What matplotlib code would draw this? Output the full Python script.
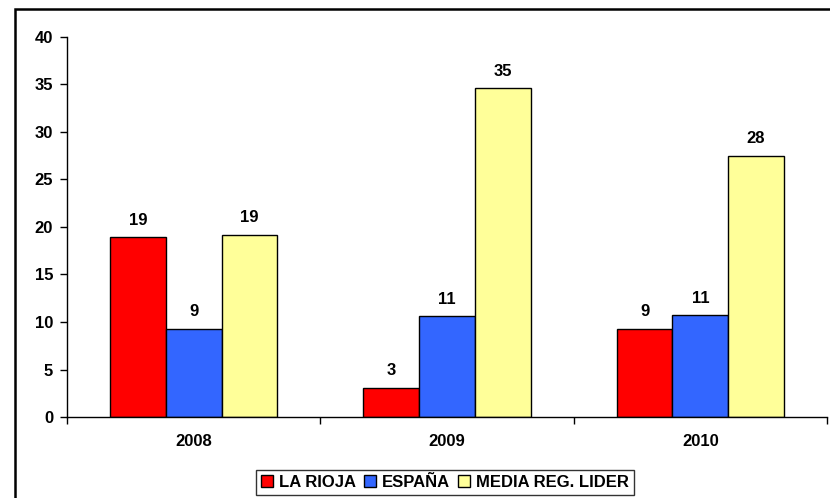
import numpy as np
import matplotlib.pyplot as plt
from matplotlib.patches import Rectangle

years = ["2008", "2009", "2010"]
series = ["LA RIOJA", "ESPAÑA", "MEDIA REG. LIDER"]
la_rioja = [18.9, 3.1, 9.3]
espana = [9.3, 10.6, 10.7]
media_lider = [19.2, 34.6, 27.5]
colores = ["#FF0000", "#3366FF", "#FFFF99"]

plt.rcParams["font.family"] = ["Liberation Sans", "DejaVu Sans"]
plt.rcParams["font.weight"] = "bold"

fig = plt.figure(figsize=(8.3, 4.98), dpi=100)
ax = fig.add_axes([67 / 830, 1 - 417 / 498, 760 / 830, 380 / 498])

# marco exterior del gráfico
fig.patches.append(Rectangle((15 / 830, -0.1), 1.2, 1 - 9 / 498 + 0.1, transform=fig.transFigure,
                             fill=False, edgecolor="black", linewidth=1.8, zorder=0))

x = np.arange(len(years))
w = 0.22
for i, (vals, nombre, c) in enumerate(zip([la_rioja, espana, media_lider], series, colores)):
    barras = ax.bar(x + (i - 1) * w, vals, w, color=c, edgecolor="black", linewidth=1.0, label=nombre)
    for b, v in zip(barras, vals):
        ax.text(b.get_x() + b.get_width() / 2, v + 1.3, f"{v:.0f}", ha="center", va="baseline",
                fontsize=12, fontweight="bold")

ax.set_xlim(-0.5, 2.5)
ax.set_ylim(0, 40)
ax.set_yticks(range(0, 41, 5))
ax.set_xticks(x)
ax.set_xticklabels(years)
ax.set_xticks([-0.5, 0.5, 1.5, 2.5], minor=True)
ax.tick_params(axis="x", which="major", length=0, pad=12, labelsize=12)
ax.tick_params(axis="x", which="minor", length=5, width=1, color="black")
ax.tick_params(axis="y", length=5, width=1, labelsize=12, pad=5)
for s in ["top", "right"]:
    ax.spines[s].set_visible(False)
for s in ["left", "bottom"]:
    ax.spines[s].set_linewidth(1)
    ax.spines[s].set_color("black")

leg = fig.legend(loc="center", bbox_to_anchor=(445 / 830, 1 - 482 / 498), ncol=3, fontsize=12,
                 frameon=True, fancybox=False, edgecolor="black", handlelength=0.7, handleheight=0.7,
                 handletextpad=0.35, columnspacing=0.5, borderpad=0.3)
leg.get_frame().set_linewidth(1)

fig.savefig("out.png", dpi=100)
